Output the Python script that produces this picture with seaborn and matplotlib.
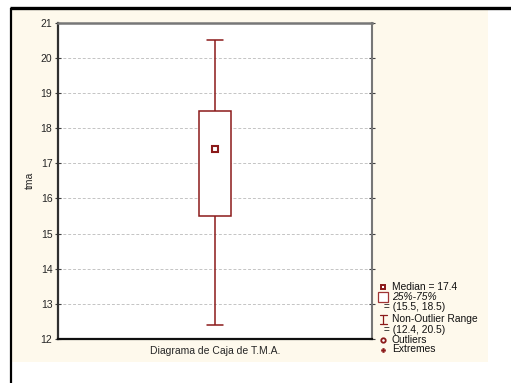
import numpy as np
import pandas as pd
import matplotlib
matplotlib.use("Agg")
import matplotlib.pyplot as plt
from matplotlib.lines import Line2D
from matplotlib.patches import Rectangle
import seaborn as sns

# ---- data ----
category = ["Diagrama de Caja de T.M.A."]
tma_values = [12.4, 15.5, 17.4, 18.5, 20.5]   # min, Q1, median, Q3, max
y_ticks = [12, 13, 14, 15, 16, 17, 18, 19, 20, 21]
legend_labels = ["Median = 17.4", "25%-75%", " = (15.5, 18.5)",
                 "Non-Outlier Range", " = (12.4, 20.5)", "Outliers", "Extremes"]

df = pd.DataFrame({"grupo": category * len(tma_values), "tma": tma_values})

sns.set_theme(style="white")
plt.rcParams["font.family"] = ["Liberation Sans", "DejaVu Sans"]

RED = "#8B1A1A"
CREAM = "#FEF9EC"

fig = plt.figure(figsize=(5.11, 3.83), dpi=100)
fig.patch.set_facecolor("white")

# cream panel and black frame
fig.add_artist(Rectangle((12 / 511, 1 - 362 / 383), (488 - 12) / 511, (362 - 9) / 383,
                         transform=fig.transFigure, facecolor=CREAM, edgecolor="none", zorder=0))
fig.add_artist(Line2D([10 / 511, 1.0], [1 - 7.5 / 383, 1 - 7.5 / 383], transform=fig.transFigure,
                      color="black", linewidth=2.4, solid_capstyle="butt"))
fig.add_artist(Line2D([11 / 511, 11 / 511], [0, 1 - 7.5 / 383], transform=fig.transFigure,
                      color="black", linewidth=1.6, solid_capstyle="butt"))

ax = fig.add_axes([58 / 511, 44 / 383, (372 - 58) / 511, (339 - 22.7) / 383])
ax.set_facecolor("white")

sns.boxplot(data=df, x="grupo", y="tma", ax=ax, width=0.1, color="white",
            linecolor=RED, linewidth=1.1, whis=1.5,
            medianprops=dict(linewidth=0), showfliers=False)
sns.pointplot(data=df, x="grupo", y="tma", ax=ax, estimator="median", errorbar=None,
              marker="s", markersize=4, markerfacecolor="white", markeredgecolor=RED,
              markeredgewidth=1.5, linestyle="none", color=RED)

ax.set_xlim(-0.5, 0.5)
ax.set_ylim(12, 21)
ax.set_yticks(y_ticks)
ax.set_yticklabels([str(t) for t in y_ticks], fontsize=7.5)
ax.yaxis.grid(True, linestyle=(0, (3, 2)), color="#C4C4C4", linewidth=0.7)
ax.set_axisbelow(True)
ax.set_xlabel("")
ax.set_ylabel("tma", fontsize=7.5, labelpad=4)
ax.tick_params(axis="x", length=0, pad=5, labelsize=7.5)
ax.tick_params(axis="y", left=True, right=True, direction="inout", length=4, width=0.8,
               color="#404040", pad=2)

for side, col, lw in [("left", "#303030", 1.6), ("bottom", "#101010", 1.6),
                      ("top", "#777777", 1.8), ("right", "#777777", 1.5)]:
    ax.spines[side].set_visible(True)
    ax.spines[side].set_color(col)
    ax.spines[side].set_linewidth(lw)

# ---- legend (Statistica style) ----
mx, tx = 383 / 511, 392 / 511
rows = [287, 296.5, 307, 319, 330, 340, 349.5]
def fy(p):
    return 1 - p / 383

fig.add_artist(Line2D([mx], [fy(rows[0])], transform=fig.transFigure, marker="s", markersize=3.5,
                      markerfacecolor="white", markeredgecolor=RED, markeredgewidth=1.4, linestyle="none"))
fig.add_artist(Line2D([mx], [fy(rows[1])], transform=fig.transFigure, marker="s", markersize=6.5,
                      markerfacecolor="white", markeredgecolor="#A03434", markeredgewidth=0.9, linestyle="none"))
# I-shaped whisker symbol
x0, x1 = 379.5 / 511, 386.5 / 511
fig.add_artist(Line2D([x0, x1], [fy(314.5)] * 2, transform=fig.transFigure, color=RED, linewidth=0.9))
fig.add_artist(Line2D([x0, x1], [fy(323.5)] * 2, transform=fig.transFigure, color=RED, linewidth=0.9))
fig.add_artist(Line2D([mx, mx], [fy(314.5), fy(323.5)], transform=fig.transFigure, color=RED, linewidth=0.9))
fig.add_artist(Line2D([mx], [fy(rows[5])], transform=fig.transFigure, marker="o", markersize=3.2,
                      markerfacecolor="white", markeredgecolor=RED, markeredgewidth=1.3, linestyle="none"))
fig.add_artist(Line2D([mx], [fy(rows[6])], transform=fig.transFigure, marker="P", markersize=3.2,
                      markerfacecolor=RED, markeredgecolor=RED, markeredgewidth=0.3, linestyle="none"))

for i, (lab, r) in enumerate(zip(legend_labels, rows)):
    x = tx if not lab.startswith(" =") else 381 / 511
    fig.text(x, fy(r), lab, fontsize=7.4, va="center", ha="left", color="#111111",
             style="italic" if lab == "25%-75%" else "normal")

fig.savefig("out.png", dpi=100, facecolor=fig.get_facecolor())
